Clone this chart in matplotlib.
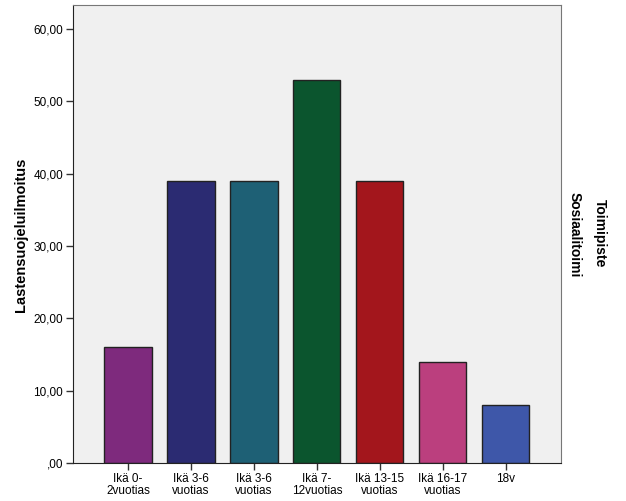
import matplotlib
matplotlib.use("Agg")
import matplotlib.pyplot as plt

categories = ["Ikä 0-\n2vuotias", "Ikä 3-6\nvuotias", "Ikä 3-6\nvuotias", "Ikä 7-\n12vuotias",
              "Ikä 13-15\nvuotias", "Ikä 16-17\nvuotias", "18v"]
values = [16, 39, 39, 53, 39, 14, 8]
colors = ["#7e2a7d", "#2b2b72", "#1e6075", "#0b552e", "#a3161c", "#bb3f7e", "#3e57a9"]
yticks = [0, 10, 20, 30, 40, 50, 60]
ytick_labels = [",00", "10,00", "20,00", "30,00", "40,00", "50,00", "60,00"]

plt.rcParams['font.family'] = ['Liberation Sans', 'DejaVu Sans']
fig = plt.figure(figsize=(6.26, 5.01), dpi=100)
ax = fig.add_axes([73/626, 1 - 463/501, (561-73)/626, (463-5)/501])
ax.set_facecolor("#f0f0f0")
x = list(range(len(categories)))
ax.bar(x, values, width=0.75, color=colors, edgecolor="#222222", linewidth=1.0, zorder=2)
ax.set_xlim(-0.873, 6.877)
ax.set_ylim(0, 63.3)
ax.set_yticks(yticks)
ax.set_yticklabels(ytick_labels, fontsize=8.5)
ax.set_xticks(x)
ax.set_xticklabels(categories, fontsize=8.5, linespacing=1.0)
ax.tick_params(axis='both', length=5, width=1, color="#333333", pad=2)
for s in ["left", "bottom"]:
    ax.spines[s].set_color("#222222")
for s in ["top", "right"]:
    ax.spines[s].set_color("#777777")
fig.text(21/626, 1 - 234.5/501, "Lastensuojeluilmoitus", rotation=90, fontsize=10.5,
         fontweight='bold', ha='center', va='center')
fig.text(600/626, 1 - 233/501, "Toimipiste", rotation=270, fontsize=10, fontweight='bold',
         ha='center', va='center')
fig.text(575/626, 1 - 235/501, "Sosiaalitoimi", rotation=270, fontsize=10, fontweight='bold',
         ha='center', va='center')
fig.savefig("out.png", dpi=100, facecolor="white")
